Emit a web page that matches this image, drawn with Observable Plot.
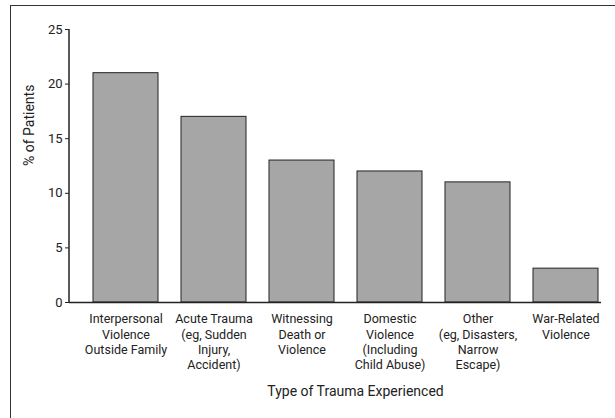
<!DOCTYPE html>
<html>
<head>
<meta charset="utf-8">
<script src="https://cdn.jsdelivr.net/npm/d3@7"></script>
<script src="https://cdn.jsdelivr.net/npm/@observablehq/plot@0.6"></script>
<style>
  body { margin: 0; background: #fff; }
  #wrap { position: relative; width: 615px; height: 418px; overflow: hidden; }
  #border { position: absolute; left: 10px; top: 5px; width: 620px; height: 430px;
            border-left: 1.5px solid #333; border-top: 1.5px solid #333; box-sizing: border-box; }
  #chart { position: absolute; left: 0; top: 0; }
</style>
</head>
<body>
<div id="wrap"><div id="border"></div><div id="chart"></div></div>
<script>
const categories = [
  "Interpersonal\nViolence\nOutside Family",
  "Acute Trauma\n(eg, Sudden\nInjury,\nAccident)",
  "Witnessing\nDeath or\nViolence",
  "Domestic\nViolence\n(Including\nChild Abuse)",
  "Other\n(eg, Disasters,\nNarrow\nEscape)",
  "War-Related\nViolence"
];
const percents = [21, 17, 13, 12, 11, 3.1];
const yTicks = [0, 5, 10, 15, 20, 25];
const yLabel = "% of Patients";
const xLabel = "Type of Trauma Experienced";

const data = categories.map((c, i) => ({category: c, value: percents[i]}));

// vertical y-axis domain line, drawn through the y scale
function yAxisLine(index, scales, values, dimensions) {
  const [y0, y1] = scales.y.domain ? [0, 25] : [0, 25];
  const x = dimensions.marginLeft;
  const line = document.createElementNS("http://www.w3.org/2000/svg", "line");
  line.setAttribute("x1", x); line.setAttribute("x2", x);
  line.setAttribute("y1", scales.y(y0)); line.setAttribute("y2", scales.y(y1));
  line.setAttribute("stroke", "#222"); line.setAttribute("stroke-width", 1.5);
  const g = document.createElementNS("http://www.w3.org/2000/svg", "g");
  g.appendChild(line);
  return g;
}

const chart = Plot.plot({
  width: 615,
  height: 418,
  marginLeft: 69,
  marginRight: 14,
  marginTop: 29,
  marginBottom: 116,
  style: {fontFamily: "Roboto, 'Liberation Sans', sans-serif", background: "transparent", color: "#222"},
  x: {domain: categories, range: [79.6, 612.4], paddingInner: 0.256, paddingOuter: 0.128, align: 0.5},
  y: {domain: [0, 25]},
  marks: [
    Plot.barY(data, {x: "category", y: "value", fill: "#a6a6a6", stroke: "#222", strokeWidth: 1}),
    Plot.ruleY([0], {stroke: "#222", strokeWidth: 1.5}),
    yAxisLine,
    Plot.axisY({ticks: yTicks, tickSize: 4, tickPadding: 3, fontSize: 13, label: null, tickFormat: d => String(d)}),
    Plot.axisX({tickSize: 0, tickPadding: 10, fontSize: 12.5, lineHeight: 1.22, label: null}),
    Plot.text([yLabel], {text: d => d, frameAnchor: "left", rotate: -90, dx: -40, fontSize: 14, fill: "#222"}),
    Plot.text([xLabel], {text: d => d, frameAnchor: "bottom", dx: 20, dy: 93, fontSize: 14, fill: "#222"})
  ]
});
document.getElementById("chart").appendChild(chart);
</script>
</body>
</html>
